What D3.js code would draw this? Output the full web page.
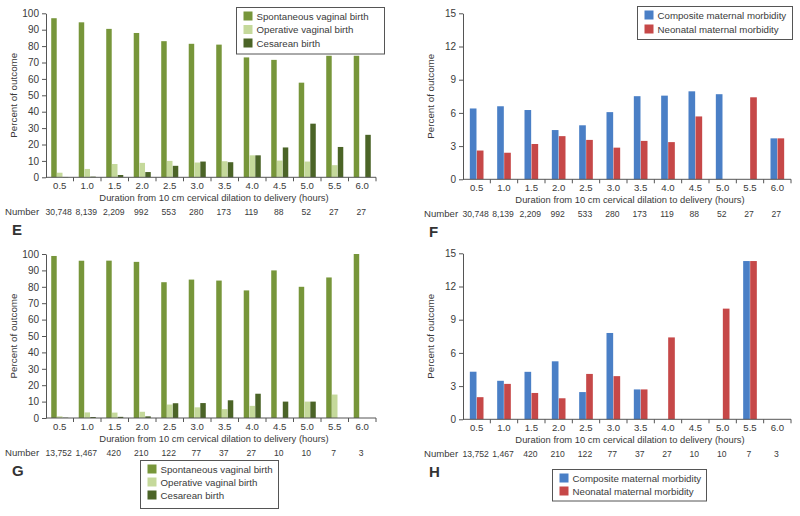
<!DOCTYPE html>
<html><head><meta charset="utf-8">
<script src="https://cdn.jsdelivr.net/npm/d3@7"></script>
<style>body{margin:0;background:#fff}svg{display:block}text{font-family:"Liberation Sans",Arial,sans-serif;fill:#3a3a3a}</style>
</head><body><svg id="c" width="800" height="516"></svg>
<script>
const durations = ["0.5","1.0","1.5","2.0","2.5","3.0","3.5","4.0","4.5","5.0","5.5","6.0"];
const numbersEF = ["30,748","8,139","2,209","992","553","280","173","119","88","52","27","27"];
const numbersEF2 = ["30,748","8,139","2,209","992","533","280","173","119","88","52","27","27"];
const numbersGH = ["13,752","1,467","420","210","122","77","37","27","10","10","7","3"];
const birthSeries = ["Spontaneous vaginal birth","Operative vaginal birth","Cesarean birth"];
const morbSeries = ["Composite maternal morbidity","Neonatal maternal morbidity"];
// Panel E
const eSpont = [97,94.5,90.5,88,83,81.4,80.9,73.1,71.6,57.7,74.1,74.1];
const eOper  = [2.8,5.1,8.1,8.8,10,9.0,9.8,13.4,10.2,9.6,7.4,0];
const eCes   = [0.2,0.4,1.4,3.2,7,9.6,9.2,13.4,18.2,32.7,18.5,25.9];
// Panel F
const fComp  = [6.4,6.6,6.26,4.45,4.88,6.07,7.51,7.56,7.95,7.69,0,3.7];
const fNeo   = [2.6,2.4,3.19,3.9,3.56,2.86,3.47,3.36,5.68,0,7.41,3.7];
// Panel G
const gSpont = [98.8,95.9,95.95,95.2,82.8,84.4,83.8,77.8,90,80,85.7,100];
const gOper  = [1.0,3.4,3.3,3.8,8.2,6.5,5.4,7.4,0,10,14.3,0];
const gCes   = [0.2,0.6,0.7,1.0,9.0,9.1,10.8,14.8,10,10,0,0];
// Panel H
const hComp  = [4.3,3.48,4.29,5.24,2.46,7.8,2.7,0,0,0,14.3,0];
const hNeo   = [2.0,3.2,2.38,1.9,4.1,3.9,2.7,7.4,0,10,14.3,0];
const yTicksBirth = [0,10,20,30,40,50,60,70,80,90,100];
const yTicksMorb = [0,3,6,9,12,15];
const birthColors = ["#77963a","#c5d99b","#4b6427"];
const morbColors = ["#4a7fc6","#c64848"];
const xTitle = "Duration from 10 cm cervical dilation to delivery (hours)";
const yTitle = "Percent of outcome";

const svg = d3.select("#c");

function panel(o){
  const g = svg.append("g");
  const x = d3.scaleBand().domain(durations).range([o.x0, o.x1]);
  const y = d3.scaleLinear().domain([0, o.ymax]).range([o.yb, o.yt]);
  const inner = d3.scaleBand().domain(o.series).range([0, x.bandwidth()*o.gw]).paddingInner(0.05);
  const off = (x.bandwidth() - inner.range()[1]) / 2;
  o.series.forEach((s, si) => {
    g.append("g").selectAll("rect").data(o.values[si]).join("rect")
      .attr("x", (d,i) => x(durations[i]) + off + inner(s))
      .attr("width", inner.bandwidth())
      .attr("y", d => y(d))
      .attr("height", d => y(0) - y(d))
      .attr("fill", o.colors[si]);
  });
  const ya = g.append("g").attr("transform", `translate(${o.x0},0)`)
    .call(d3.axisLeft(y).tickValues(o.yticks).tickSize(4).tickSizeOuter(0).tickPadding(3));
  ya.select(".domain").attr("stroke","#555");
  ya.selectAll(".tick line").attr("stroke","#555");
  ya.selectAll("text").attr("font-size",10).style("fill","#3a3a3a");
  const xa = g.append("g").attr("transform", `translate(0,${o.yb})`)
    .call(d3.axisBottom(x).tickSize(0).tickPadding(5));
  xa.select(".domain").attr("stroke","#555").attr("d", `M${o.x0},0H${o.x1}`);
  xa.selectAll("text").attr("font-size",9.6).style("fill","#3a3a3a");
  g.append("g").selectAll("line").data(durations.slice(1).concat(["_end"])).join("line")
    .attr("x1", d => d === "_end" ? o.x1 : x(d))
    .attr("x2", d => d === "_end" ? o.x1 : x(d))
    .attr("y1", o.yb).attr("y2", o.yb + 4).attr("stroke","#555");
  g.append("text").attr("x", (o.x0 + o.x1)/2 + 3).attr("y", o.yb + 24)
    .attr("text-anchor","middle").attr("font-size",9.4).text(xTitle);
  g.append("text").attr("transform", `translate(${o.x0 - 29},${(o.yb + o.yt)/2}) rotate(-90)`)
    .attr("text-anchor","middle").attr("font-size",9.8).text(yTitle);
  g.append("text").attr("x", o.numX).attr("y", o.yb + 38).attr("font-size",9.6).text("Number");
  g.append("g").selectAll("text").data(o.numbers).join("text")
    .attr("x", (d,i) => x(durations[i]) + x.bandwidth()/2 - 1)
    .attr("y", o.yb + 38).attr("text-anchor","middle").attr("font-size",8.6).text(d => d);
  g.append("text").attr("x", o.letterX).attr("y", o.yb + 58)
    .attr("font-size",15).attr("font-weight","bold").style("fill","#333").text(o.letter);
  const L = o.legend;
  g.append("rect").attr("x", L.x).attr("y", L.y).attr("width", L.w).attr("height", L.h)
    .attr("fill","#fff").attr("stroke","#555").attr("stroke-width",1);
  o.series.forEach((s, si) => {
    g.append("rect").attr("x", L.x + 7).attr("y", L.y + 8 + si*L.dy - 4)
      .attr("width", 9).attr("height", 9).attr("fill", o.colors[si]);
    g.append("text").attr("x", L.x + 20).attr("y", L.y + 8 + si*L.dy + 4)
      .attr("font-size", 9.7).text(s);
  });
}

panel({x0:46, x1:376, yt:13.3, yb:177.3, ymax:100, yticks:yTicksBirth, series:birthSeries,
  values:[eSpont,eOper,eCes], colors:birthColors, gw:0.62, numbers:numbersEF, numX:5,
  letter:"E", letterX:12, legend:{x:236.5,y:7.5,w:148,h:46.5,dy:13.5}});
panel({x0:463, x1:791, yt:13.3, yb:179.3, ymax:15, yticks:yTicksMorb, series:morbSeries,
  values:[fComp,fNeo], colors:morbColors, gw:0.5, numbers:numbersEF2, numX:424,
  letter:"F", letterX:429, legend:{x:637.5,y:6.5,w:155,h:33,dy:14}});
panel({x0:46, x1:376, yt:254, yb:418, ymax:100, yticks:yTicksBirth, series:birthSeries,
  values:[gSpont,gOper,gCes], colors:birthColors, gw:0.62, numbers:numbersGH, numX:5,
  letter:"G", letterX:12, legend:{x:140.5,y:460.5,w:138,h:48,dy:13}});
panel({x0:463, x1:791, yt:253.3, yb:419.3, ymax:15, yticks:yTicksMorb, series:morbSeries,
  values:[hComp,hNeo], colors:morbColors, gw:0.5, numbers:numbersGH, numX:424,
  letter:"H", letterX:429, legend:{x:552.5,y:469.5,w:154,h:31.5,dy:13}});
</script></body></html>
